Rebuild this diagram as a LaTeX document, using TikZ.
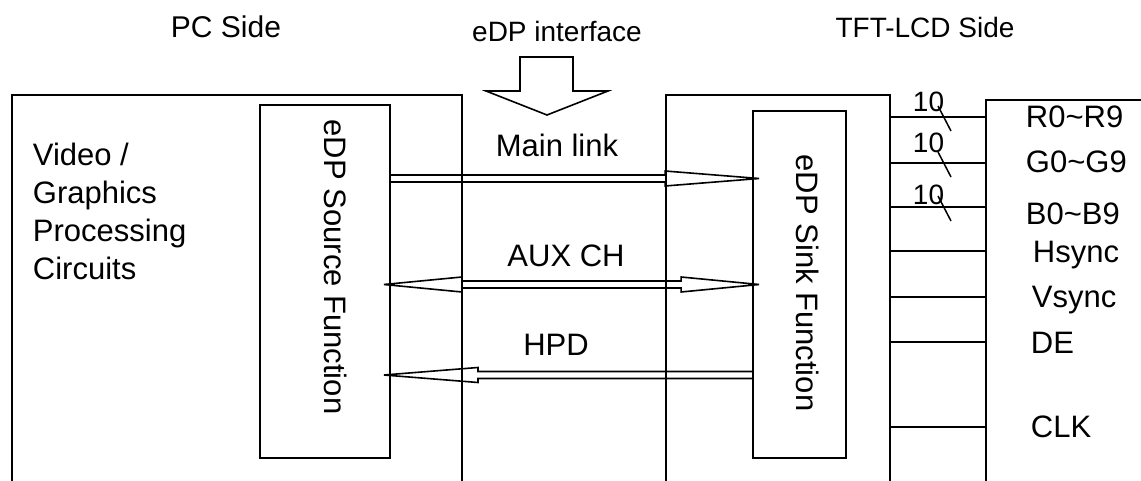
\documentclass[tikz,border=0pt]{standalone}
\usepackage{fontspec}
\setmainfont{Liberation Sans}
\usetikzlibrary{calc}

% hollow one-way link: start, tip, head length
\newcommand{\linkarrow}[3]{%
  \draw[hollow] let \p1=(#1), \p2=(#2), \n1={ifthenelse(\x2>\x1,1,-1)} in
    (\x1,\y1+3.5pt) -- ({\x2-\n1*#3},\y1+3.5pt) -- ({\x2-\n1*#3},\y1+7.5pt)
    -- (\x2,\y1) -- ({\x2-\n1*#3},\y1-7.5pt) -- ({\x2-\n1*#3},\y1-3.5pt) -- (\x1,\y1-3.5pt);}
% hollow two-way link: left tip, right tip, head length
\newcommand{\bothwayarrow}[3]{%
  \draw[hollow] let \p1=(#1), \p2=(#2) in
    (\x1,\y1) -- (\x1+#3,\y1+7.5pt) -- (\x1+#3,\y1+3.5pt) -- (\x2-#3,\y1+3.5pt)
    -- (\x2-#3,\y1+7.5pt) -- (\x2,\y1) -- (\x2-#3,\y1-7.5pt) -- (\x2-#3,\y1-3.5pt)
    -- (\x1+#3,\y1-3.5pt) -- (\x1+#3,\y1-7.5pt) -- cycle;}

\begin{document}
\begin{tikzpicture}[x=1pt,y=-1pt,line width=1.9pt,
  txt/.style={inner sep=0pt,font=\fontsize{31}{38}\selectfont},
  smalltxt/.style={inner sep=0pt,font=\fontsize{28}{34}\selectfont},
  funcbox/.style={draw,inner sep=0pt},
  hollow/.style={line width=1.6pt,line join=miter},
  bus/.style={line width=2.2pt}]
	\useasboundingbox (0,0) rectangle (1141,481);

	%side titles
	\node[smalltxt,anchor=base,font=\fontsize{30}{34}\selectfont] (pcside) at (226,38) {PC Side};
	\node[smalltxt,anchor=base] (edpif)   at (557,42) {eDP interface};
	\node[smalltxt,anchor=base] (lcdside) at (925,38) {TFT-LCD Side};

	%interface arrow
	\draw[hollow] (520,57) -- (573,57) -- (573,91) -- (608,91) -- (547,115) -- (486,91) -- (520,91) -- cycle;

	%frames, open at the bottom
	\draw (12,481) -- (12,95) -- (462,95) -- (462,481);		%PC
	\draw (666,481) -- (666,95) -- (890,95) -- (890,481);	%panel
	\draw[bus] (986,481) -- (986,100) -- (1141,100);		%timing controller

	\node[txt,anchor=north west,align=left] (gpu) at (32,142) {Video /\\Graphics\\Processing\\Circuits};

	%source and sink blocks
	\node[funcbox,minimum width=130pt,minimum height=353pt] (src)  at (325,281.5) {};
	\node[funcbox,minimum width=93pt,minimum height=347pt]  (sink) at (799.5,284.5) {};
	\node[txt,rotate=-90] (srclbl)  at (336,267) {eDP Source Function};
	\node[txt,rotate=-90] (sinklbl) at (808,283) {eDP Sink Function};

	%link heights
	\coordinate (mainY) at (0,178.5);
	\coordinate (auxY)  at (0,284.5);
	\coordinate (hpdY)  at (0,375);

	%links
	\linkarrow{src.east |- mainY}{$(sink.west |- mainY)+(7,0)$}{94pt}
	\bothwayarrow{$(src.east |- auxY)+(-7,0)$}{$(sink.west |- auxY)+(7,0)$}{78pt}
	\linkarrow{sink.west |- hpdY}{$(src.east |- hpdY)+(-7,0)$}{94pt}

	\node[txt,anchor=base] (mainlbl) at (557,157) {Main link};
	\node[txt,anchor=base] (auxlbl)  at (566,267) {AUX CH};
	\node[txt,anchor=base] (hpdlbl)  at (556,355) {HPD};

	%panel signals
	\foreach \yy in {117,163,207,251,297,342,427}
		\draw[bus] (890,\yy) -- (986,\yy);
	\foreach \yy/\by [count=\i] in {117/112,163/153,207/205}{
		\node[smalltxt,anchor=base west] (w\i) at (912,\by) {10};
		\draw[line width=1.5pt] (938,\yy-11) -- (951,\yy+14);
	}
	\foreach \t/\xx/\by [count=\i] in {R0\textasciitilde R9/1025/128,G0\textasciitilde G9/1025/173,
			B0\textasciitilde B9/1025/225,Hsync/1032/263,Vsync/1031/308,DE/1030/353,CLK/1030/437}
		\node[txt,anchor=base west] (sig\i) at (\xx,\by) {\t};
\end{tikzpicture}
\end{document}
